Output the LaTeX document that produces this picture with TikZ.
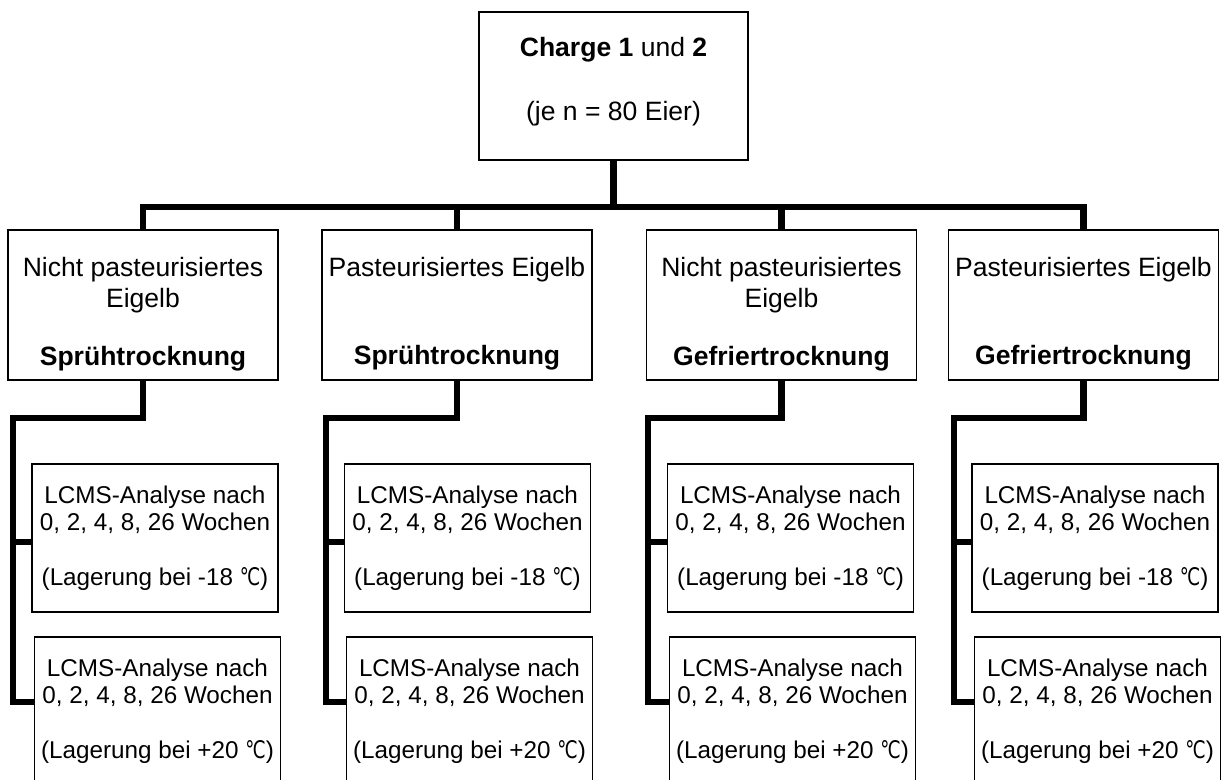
\documentclass[tikz,border=0pt]{standalone}
\usepackage{fontspec}
\setmainfont{Liberation Sans}
\newfontfamily\symfont{DejaVu Sans}
\newcommand{\degC}{\scalebox{0.75}[1]{\symfont ℃}}
\usepackage{tikz}

\begin{document}
\begin{tikzpicture}[x=0.02cm, y=0.02cm]
			\tikzstyle{every node}+=[inner sep=0pt, font=\fontsize{15.1}{17.6}\selectfont]
			\tikzstyle{topbox}=[draw, line width=0.8pt, align=center, minimum width=5.38cm, minimum height=2.96cm]
			\tikzstyle{probe}=[draw, line width=0.8pt, align=center, minimum width=5.4cm, minimum height=3cm]
			\tikzstyle{lcms}=[draw, line width=0.8pt, align=center, minimum width=4.92cm, minimum height=2.96cm, font=\fontsize{13.8}{15.4}\selectfont]
			\tikzstyle{link}=[line width=3.5pt]
			\clip (0,0) rectangle (1221,-780);
			\node [topbox] (top) at (613.5,-86) {\textbf{Charge 1} und \textbf{2}\\[0.66cm](je n = 80 Eier)\rule[-0.27cm]{0pt}{0.27cm}};
			\node [probe] (r1) at (143,-305) {\rule{0pt}{0.75cm}Nicht pasteurisiertes\\Eigelb\\[0.54cm]\textbf{Sprühtrocknung}};
			\node [probe] (r2) at (457,-305) {\rule{0pt}{0.75cm}Pasteurisiertes Eigelb\\[1.14cm]\textbf{Sprühtrocknung}};
			\node [probe] (r3) at (781.5,-305) {\rule{0pt}{0.75cm}Nicht pasteurisiertes\\Eigelb\\[0.54cm]\textbf{Gefriertrocknung}};
			\node [probe] (r4) at (1083.5,-305) {\rule{0pt}{0.75cm}Pasteurisiertes Eigelb\\[1.14cm]\textbf{Gefriertrocknung}};
			\node [lcms] (l11) at (155,-538) {LCMS-Analyse nach\\0, 2, 4, 8, 26 Wochen\\[0.56cm](Lagerung bei -18 \degC)};
			\node [lcms] (l12) at (157.5,-711) {LCMS-Analyse nach\\0, 2, 4, 8, 26 Wochen\\[0.56cm](Lagerung bei +20 \degC)};
			\node [lcms] (l21) at (467.5,-538) {LCMS-Analyse nach\\0, 2, 4, 8, 26 Wochen\\[0.56cm](Lagerung bei -18 \degC)};
			\node [lcms] (l22) at (469.5,-711) {LCMS-Analyse nach\\0, 2, 4, 8, 26 Wochen\\[0.56cm](Lagerung bei +20 \degC)};
			\node [lcms] (l31) at (790.5,-538) {LCMS-Analyse nach\\0, 2, 4, 8, 26 Wochen\\[0.56cm](Lagerung bei -18 \degC)};
			\node [lcms] (l32) at (792.5,-711) {LCMS-Analyse nach\\0, 2, 4, 8, 26 Wochen\\[0.56cm](Lagerung bei +20 \degC)};
			\node [lcms] (l41) at (1095,-538) {LCMS-Analyse nach\\0, 2, 4, 8, 26 Wochen\\[0.56cm](Lagerung bei -18 \degC)};
			\node [lcms] (l42) at (1097.5,-711) {LCMS-Analyse nach\\0, 2, 4, 8, 26 Wochen\\[0.56cm](Lagerung bei +20 \degC)};
			\coordinate (hub) at (613.5,-207);
			\coordinate (c1) at (13,-418);
			\coordinate (c2) at (326,-418);
			\coordinate (c3) at (648,-418);
			\coordinate (c4) at (954,-418);
			\draw [link] (top.south) -- (hub);
			\draw [link] (r1.north) |- (hub) -| (r4.north);
			\draw [link] (r2.north) -- (r2.north |- hub);
			\draw [link] (r3.north) -- (r3.north |- hub);
			\draw [link] (r1.south) |- (c1) |- (l11.182);
			\draw [link] (c1) |- (l12.176);
			\draw [link] (r2.south) |- (c2) |- (l21.182);
			\draw [link] (c2) |- (l22.176);
			\draw [link] (r3.south) |- (c3) |- (l31.182);
			\draw [link] (c3) |- (l32.176);
			\draw [link] (r4.south) |- (c4) |- (l41.182);
			\draw [link] (c4) |- (l42.176);
\end{tikzpicture}
\end{document}
